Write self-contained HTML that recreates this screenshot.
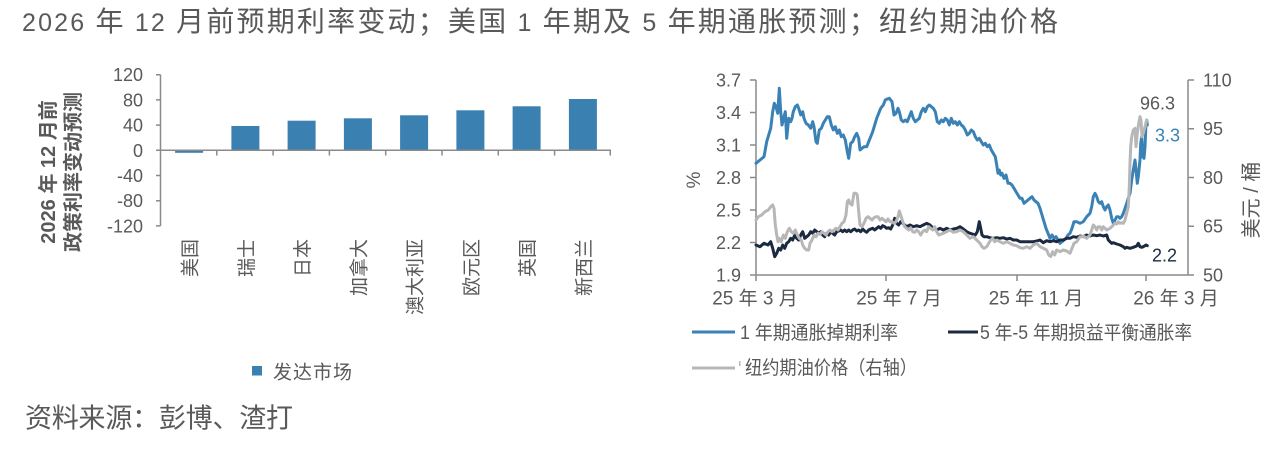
<!DOCTYPE html>
<html><head><meta charset="utf-8"><style>
html,body{margin:0;padding:0;background:#fff;}
svg{display:block;}
text{font-family:"Liberation Sans","Noto Sans CJK SC",sans-serif;fill:#595959;}
</style></head><body>
<svg width="1278" height="454" viewBox="0 0 1278 454" xmlns="http://www.w3.org/2000/svg">
<rect width="1278" height="454" fill="#fff"/>
<!-- Title -->
<text x="22" y="31" font-size="28" textLength="1036" lengthAdjust="spacing"><tspan font-size="25">2026 </tspan>年<tspan font-size="25"> 12 </tspan>月前预期利率变动；美国<tspan font-size="25"> 1 </tspan>年期及<tspan font-size="25"> 5 </tspan>年期通胀预测；纽约期油价格</text>

<!-- LEFT CHART -->
<g font-size="18" text-anchor="end">
<text x="143" y="81.2">120</text>
<text x="143" y="106.4">80</text>
<text x="143" y="131.6">40</text>
<text x="143" y="156.8">0</text>
<text x="143" y="182">-40</text>
<text x="143" y="207.2">-80</text>
<text x="143" y="232.4">-120</text>
</g>
<g font-size="20" font-weight="bold" text-anchor="middle">
<text transform="translate(55,172) rotate(-90)">2026 年 12 月前</text>
<text transform="translate(80,172) rotate(-90)">政策利率变动预测</text>
</g>
<g fill="#3a80b1">
<rect x="175.1" y="150.3" width="28" height="2.5"/>
<rect x="231.4" y="126" width="28" height="24.3"/>
<rect x="287.6" y="120.7" width="28" height="29.6"/>
<rect x="343.9" y="118.3" width="28" height="32"/>
<rect x="400.1" y="115.3" width="28" height="35"/>
<rect x="456.4" y="110.3" width="28" height="40"/>
<rect x="512.6" y="106.3" width="28" height="44"/>
<rect x="568.9" y="99" width="28" height="51.3"/>
</g>
<g stroke="#8a8a8a" stroke-width="1.5" fill="none">
<line x1="160.5" y1="74.7" x2="160.5" y2="225.9"/>
<line x1="160.5" y1="150.3" x2="611" y2="150.3"/>
<path d="M156 74.7H160.5M156 99.9H160.5M156 125.1H160.5M156 150.3H160.5M156 175.5H160.5M156 200.7H160.5M156 225.9H160.5"/>
<path d="M216.8 150.3V155.5M273.1 150.3V155.5M329.4 150.3V155.5M385.7 150.3V155.5M442 150.3V155.5M498.3 150.3V155.5M554.6 150.3V155.5M610.3 150.3V155.5"/>
</g>
<g font-size="19" text-anchor="end">
<text transform="translate(196.5,239) rotate(-90)">美国</text>
<text transform="translate(252.8,239) rotate(-90)">瑞士</text>
<text transform="translate(309,239) rotate(-90)">日本</text>
<text transform="translate(365.3,239) rotate(-90)">加拿大</text>
<text transform="translate(421.5,239) rotate(-90)">澳大利亚</text>
<text transform="translate(477.8,239) rotate(-90)">欧元区</text>
<text transform="translate(534,239) rotate(-90)">英国</text>
<text transform="translate(590.3,239) rotate(-90)">新西兰</text>
</g>
<rect x="252" y="366" width="10" height="9.5" fill="#3a80b1"/>
<text x="273" y="378.5" font-size="19" textLength="79" lengthAdjust="spacing">发达市场</text>

<!-- Source -->
<text x="25" y="427.5" font-size="27" textLength="268" lengthAdjust="spacing">资料来源：彭博、渣打</text>

<!-- RIGHT CHART -->
<g font-size="18" text-anchor="end">
<text x="741" y="86.5">3.7</text>
<text x="741" y="119">3.4</text>
<text x="741" y="151.5">3.1</text>
<text x="741" y="184">2.8</text>
<text x="741" y="216.5">2.5</text>
<text x="741" y="249">2.2</text>
<text x="741" y="281.5">1.9</text>
</g>
<g font-size="18">
<text x="1203" y="86.5">110</text>
<text x="1203" y="135.2">95</text>
<text x="1203" y="184">80</text>
<text x="1203" y="232.7">65</text>
<text x="1203" y="281.5">50</text>
</g>
<text transform="translate(700,180) rotate(-90)" font-size="19" text-anchor="middle">%</text>
<text transform="translate(1258,200) rotate(-90)" font-size="20" text-anchor="middle">美元 / 桶</text>
<g font-size="19" text-anchor="middle">
<text x="755" y="304.5">25 年 3 月</text>
<text x="899" y="304.5">25 年 7 月</text>
<text x="1036" y="304.5">25 年 11 月</text>
<text x="1176" y="304.5">26 年 3 月</text>
</g>
<g stroke="#8a8a8a" stroke-width="1.5" fill="none">
<line x1="756" y1="80" x2="756" y2="275"/>
<line x1="1188" y1="80" x2="1188" y2="275"/>
<line x1="756" y1="275" x2="1188" y2="275"/>
<path d="M750 80H756M750 112.5H756M750 145H756M750 177.5H756M750 210H756M750 242.5H756M750 275H756"/>
<path d="M1188 80H1194M1188 128.75H1194M1188 177.5H1194M1188 226.25H1194M1188 275H1194"/>
<path d="M756 275V281M886 275V281M1017 275V281M1146 275V281"/>
</g>

<g fill="none" stroke-width="3" stroke-linejoin="round" stroke-linecap="round">
<polyline stroke="#3a82b5" points="756,163.3 760,160 764,156.7 766.7,141.7 770.7,128.3 772.7,111.7 774.3,103.3 776,106.7 777.7,113.3 779.3,88.3 780.7,111.7 782,125 784,116.7 785.3,111.7 786.7,138.3 788.7,118.3 790.7,121.7 792,118.3 793.3,111.7 795.3,106.7 797.3,105 798.7,108.3 800.7,115 802.7,111.7 804,118.3 806,123.3 808.3,125 810.7,128.3 812.7,121.7 814,126.7 816,141.7 817.3,143.3 819.3,130 821.3,128.3 823.3,123.3 825.3,120 827.3,116.7 829.3,116.7 831.3,125 833.3,130 835.3,126.7 837.3,133.3 839.3,130 841.3,136.7 843.3,135 845.3,140 847.3,151.7 848.7,158.3 850.7,143.3 852.7,141.7 854.7,136.7 856.7,133.3 858.7,138.3 860,150 862,148.3 864,146.7 866.7,146.7 868.7,141.7 870.7,136.7 872.7,131.7 874.7,125 876.7,118.3 878.7,113.3 880.7,108.3 883.3,105 885.3,100 887.3,99 889.3,98.3 892,101.7 894,115 896,113.3 898,108.3 899.3,111.7 901.3,120 903.3,121.7 905.3,120 907.3,121.7 909.3,116.7 911.3,111.7 913.3,118.3 915.3,121.7 917.3,120 919.3,118.3 921.3,111.7 923.3,108.3 925.3,111.7 927.3,106.7 929.3,105 931.3,106.7 933.3,108.3 935.3,111.7 937.3,121.7 939.3,123.3 941.3,120 943.3,121.7 945.3,118.3 947.3,120 949.3,125 951.3,118.3 953.3,123.3 955.3,121.7 957.3,125 959.3,121.7 961.3,125 963.3,126.7 965.3,130 967.3,135 969.3,133.3 971.3,130 973.3,131.7 975.3,136.7 977.3,140 979.3,138.3 981.3,141.7 983.3,145 985.3,143.3 987.3,146.7 989.3,145 991.3,150 993.3,153.3 995.3,156.7 996.7,165 998,173.3 999.3,170 1000.7,175 1002,173.3 1004,178.3 1006,175 1008,183.3 1010,183.3 1012,185 1014,188.3 1016,191.7 1018,195 1020,198.3 1022,198.3 1024,203.3 1026,201.7 1028,200 1030,198.3 1032,196.7 1034,200 1036,201.7 1038,203.3 1040,208.3 1042,215 1044,221.7 1046,228.3 1048,233.3 1050,238.3 1052,235 1054,238.3 1056,236.7 1058,240 1060,243.3 1062,241.7 1064,240 1066,238.3 1068,235 1070,233.3 1072,228.3 1074,221.7 1076.7,221.7 1080,223.3 1083.3,221.7 1086.7,216.7 1090,213.3 1091.7,206.7 1093.3,196.7 1095,193.3 1096.7,196.7 1098.3,201.7 1100,203.3 1101.7,201.7 1103.3,206.7 1105,210 1106.7,206.7 1108.3,205 1110,210 1111.7,218.3 1113.3,223.3 1115,220 1116.7,216.7 1118.3,216.7 1120,218.3 1121.7,216.7 1123.3,213.3 1125,208.3 1126.7,203.3 1128.3,198.3 1130,193.3 1131.7,180 1133.3,170 1135,160 1136,170 1137.3,183.3 1138.3,176.7 1140,160 1140.7,143.3 1141.7,136.7 1142.7,156.7 1144,158.3 1145,146.7 1146,123.3 1146.7,120 1147.3,125"/>
<polyline stroke="#1b2a41" points="756,245 760,246.7 764,243.3 768,245 770.7,241.7 772.7,248.3 774.7,256.7 776.7,253.3 778.7,248.3 780.7,250 782.7,245 784.7,248.3 786.7,243.3 788.7,241.7 790.7,238.3 792.7,240 794.7,235 796.7,238.3 798.7,240 800.7,235 802.7,231.7 804.7,238.3 806.7,236.7 808.7,235 810.7,231.7 812.7,233.3 814.7,230 816.7,231.7 818.7,233.3 820.7,231.7 822.7,235 824.7,236.7 826.7,233.3 828.7,235 830.7,231.7 832.7,233.3 834.7,235 836.7,231.7 838.7,231 840.7,230 842.7,231.7 844.7,230 846.7,231.7 848.7,230 850.7,231.7 852.7,230 854.7,229 856.7,231 858.7,230 860.7,231.7 862.7,229 864.7,231 866.7,232.3 868.7,230 870.7,229 872.7,228.3 874.7,230 876.7,228.3 878.7,226.7 880.7,228.3 882.7,225.7 884.7,226.7 886.7,228.3 888.7,227.7 890.7,229 892.7,225 894.7,218.3 896.7,223.3 898.7,225 900.7,221.7 902.7,223.3 904.7,225 906.7,226.7 910,225 913.3,226.7 916.7,225.7 920,226.7 923.3,225 926.7,223.3 930,225 933.3,228.3 936.7,230 940,228.3 943.3,230 946.7,228.3 950,230 953.3,229 956.7,228.3 960,226.7 963.3,229 966.7,231.7 970,233.3 973.3,234.3 975.3,235 977.3,231.7 979.3,221.7 980.7,228.3 982,235 984,236.7 986.7,236.7 990,237.7 993.3,238.3 996.7,237.7 1000,238.3 1003.3,237.7 1006.7,239 1010,238.3 1013.3,240 1016.7,240 1020,241.7 1023.3,241.7 1026.7,241.7 1030,241.7 1033.3,241.7 1036.7,241 1040,240 1043.3,242.7 1046.7,240.7 1050,241.7 1053.3,240.7 1056.7,241.7 1060,240 1063.3,240 1066.7,238.3 1070,238.3 1073.3,236.7 1076.7,237.3 1080,236 1083.3,236.7 1086.7,235 1090,236 1093.3,235 1096.7,235.7 1100,235 1103.3,236 1106.7,235 1108.3,240 1110,241.7 1111.7,243.3 1113.3,242.7 1116.7,244 1120,245 1123.3,246.7 1125,248.3 1126.7,247.3 1130,248.3 1133.3,247.3 1136.7,246 1138.3,243.3 1140,246.7 1141.7,247.3 1143.3,246.7 1146,245 1147.3,245.7"/>
<polyline stroke="#b7b7b7" points="756,220 758.3,216.7 761.7,215 765,211.7 768.3,210 770.7,206.7 772.7,205 774,208.3 775.3,225 776.7,235 778,241.7 779.3,238.3 781.3,241.7 783.3,235 785.3,238.3 787.3,231.7 789.3,228.3 791.3,231.7 793.3,233.3 795.3,230 797.3,235 799.3,238.3 801.3,240 802.7,245 804.7,248.3 806.7,250 808.7,250 810,243.3 812,240 814,235 816,236.7 818,233.3 820,234.3 822,231.7 824,233.3 826,235 828,231.7 830,230 832,231.7 834,230 836,228.3 838,230 840,226.7 842,223.3 844,221.7 846,215 847.3,201.7 848.7,200 850,203.3 852,205 854,193.3 856,193.3 857.3,195 858.7,211.7 860,225 862,226.7 864,223.3 866,218.3 868,216.7 870,218.3 872,220 874,217.7 876,216.7 878,216.7 880,220 882,218.3 884,220 886,221.7 888,219 890,221.7 892,221.7 894,223.3 896,221.7 898,216.7 899.3,211 900.7,215 902.7,221.7 904.7,226.7 906.7,228.3 908.7,230 910.7,227.7 912.7,231.7 914.7,232.3 916.7,230 918.7,231.7 920.7,235 922.7,231.7 924.7,230 926.7,231.7 928.7,226.7 930.7,228.3 932.7,230 934.7,226.7 936.7,231.7 938.7,235 943.3,233.3 946.7,231.7 950,230 953.3,232.3 956.7,231.7 960,230 963.3,231.7 966.7,235 970,238.3 973.3,236.7 976.7,240 980,243.3 982,246.7 984,248.3 986.7,246.7 988.7,243.3 990.7,240 992.7,238.3 994.7,241.7 996.7,240 1000,241.7 1003.3,243.3 1006.7,241.7 1010,243.3 1013.3,245 1016.7,245.7 1020,247.7 1023.3,248.3 1026.7,246.7 1030,248.3 1033.3,245 1036.7,243.3 1040,246.7 1043.3,248.3 1046.7,250 1048.7,255 1050.7,256.5 1052.7,251.7 1054.7,255 1056.7,250 1060,251.7 1063.3,250 1066.7,251 1070,253.3 1072,248.3 1074,243.3 1076.7,241.7 1080,236.7 1081.7,236.7 1083.3,236 1086.7,238.3 1090,235 1091.7,230 1093.3,225 1095,226.7 1096.7,230 1098.3,226.7 1100,226.7 1101.7,230 1103.3,226.7 1105,228.3 1106.7,230 1110,228.3 1111.7,226.7 1113.3,225 1115,223.3 1116.7,224 1118.3,221.7 1120,223.3 1121.7,222.7 1123.3,223.3 1125,220 1126.7,213.3 1128.3,206.7 1129.3,186.7 1130,163.3 1130.7,146.7 1131.7,136.7 1133.3,130 1135,128.3 1136,146.7 1137.3,133.3 1138.7,123.3 1140,116.7 1141,120 1142,136.7 1143.3,133.3 1145,126.7 1146.7,120"/>
</g>
<text x="1140" y="109.5" font-size="18">96.3</text>
<text x="1155" y="141.5" font-size="18" style="fill:#3a82b5">3.3</text>
<text x="1152" y="261.5" font-size="18" style="fill:#1b2a41">2.2</text>

<!-- Right legend -->
<line x1="692" y1="332" x2="735" y2="332" stroke="#3a82b5" stroke-width="3"/>
<text x="740" y="339" font-size="19" textLength="158" lengthAdjust="spacingAndGlyphs">1 年期通胀掉期利率</text>
<line x1="948" y1="332" x2="978" y2="332" stroke="#1b2a41" stroke-width="3"/>
<text x="980" y="339" font-size="19" textLength="212" lengthAdjust="spacingAndGlyphs">5 年-5 年期损益平衡通胀率</text>
<line x1="692" y1="368" x2="735" y2="368" stroke="#b7b7b7" stroke-width="3"/>
<rect x="739" y="361" width="1.5" height="5" fill="#b7b7b7"/>
<text x="745" y="374" font-size="19" textLength="172" lengthAdjust="spacingAndGlyphs">纽约期油价格（右轴）</text>
</svg>
</body></html>
